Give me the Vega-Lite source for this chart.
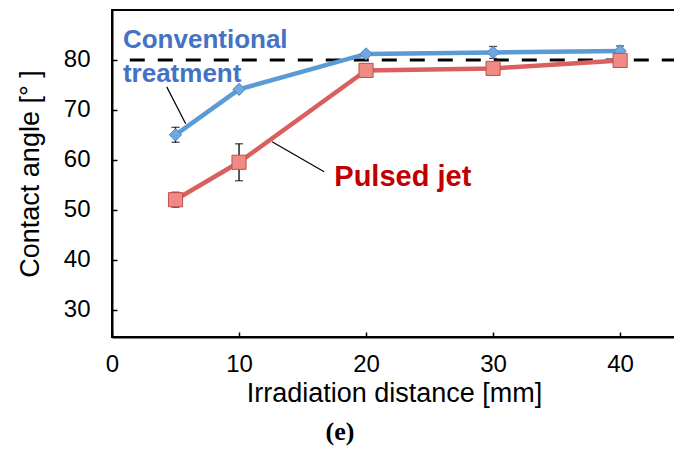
{
  "$schema": "https://vega.github.io/schema/vega-lite/v6.json",
  "width": 564,
  "height": 327,
  "autosize": {"type": "none"},
  "padding": {"left": 112, "top": 10, "right": 0, "bottom": 124},
  "config": {
    "font": "Liberation Sans",
    "view": {"stroke": "black", "strokeWidth": 2},
    "axis": {
      "grid": false,
      "domainColor": "black",
      "domainWidth": 2,
      "tickColor": "black",
      "tickWidth": 1.5,
      "tickSize": -5,
      "labelFlush": false,
      "labelFont": "Liberation Sans",
      "labelFontSize": 24,
      "labelColor": "black",
      "titleFont": "Liberation Sans",
      "titleFontSize": 27,
      "titleFontWeight": "normal",
      "titleColor": "black"
    }
  },
  "title": {
    "text": "(e)",
    "orient": "bottom",
    "font": "Liberation Serif",
    "fontSize": 26,
    "fontWeight": "bold",
    "color": "black",
    "offset": 13,
    "dx": -54
  },
  "datasets": {
    "series": [
      {"series": "Conventional treatment", "distance": 5, "angle": 65.0},
      {"series": "Conventional treatment", "distance": 10, "angle": 74.1},
      {"series": "Conventional treatment", "distance": 20, "angle": 81.2},
      {"series": "Conventional treatment", "distance": 30, "angle": 81.5},
      {"series": "Conventional treatment", "distance": 40, "angle": 81.8},
      {"series": "Pulsed jet", "distance": 5, "angle": 52.0},
      {"series": "Pulsed jet", "distance": 10, "angle": 59.5},
      {"series": "Pulsed jet", "distance": 20, "angle": 77.9},
      {"series": "Pulsed jet", "distance": 30, "angle": 78.3},
      {"series": "Pulsed jet", "distance": 40, "angle": 79.9}
    ],
    "errors": [
      {"series": "Conventional treatment", "distance": 5, "lo": 63.5, "hi": 66.5},
      {"series": "Conventional treatment", "distance": 30, "lo": 80.3, "hi": 82.7},
      {"series": "Conventional treatment", "distance": 40, "lo": 80.8, "hi": 82.8},
      {"series": "Pulsed jet", "distance": 5, "lo": 50.5, "hi": 53.5},
      {"series": "Pulsed jet", "distance": 10, "lo": 55.8, "hi": 63.2}
    ],
    "leaders": [
      {"x": 4.31, "y": 74.6, "x2": 5.8, "y2": 67.2},
      {"x": 12.6, "y": 63.6, "x2": 16.7, "y2": 57.6}
    ],
    "labels": [
      {"series": "Conventional treatment", "text": "Conventional", "x": 0.86, "y": 82.4},
      {"series": "Conventional treatment", "text": "treatment", "x": 0.86, "y": 75.6},
      {"series": "Pulsed jet", "text": "Pulsed jet", "x": 17.5, "y": 54.8}
    ]
  },
  "layer": [
    {
      "data": {"values": [{"x": 1.4, "x2": 44.4, "y": 80}]},
      "mark": {"type": "rule", "color": "black", "strokeWidth": 3, "strokeDash": [15, 13]},
      "encoding": {
        "x": {"field": "x", "type": "quantitative",
          "scale": {"domain": [0, 44.4], "nice": false},
          "axis": {"values": [0, 10, 20, 30, 40], "labelPadding": 20, "titlePadding": 4},
          "title": "Irradiation distance [mm]"},
        "x2": {"field": "x2"},
        "y": {"field": "y", "type": "quantitative",
          "scale": {"domain": [24.5, 90], "nice": false, "zero": false},
          "axis": {"values": [30, 40, 50, 60, 70, 80], "labelPadding": 27, "titlePadding": 19},
          "title": "Contact angle [° ]"}
      }
    },
    {
      "data": {"name": "leaders"},
      "mark": {"type": "rule", "color": "black", "strokeWidth": 1.2},
      "encoding": {
        "x": {"field": "x", "type": "quantitative"},
        "x2": {"field": "x2"},
        "y": {"field": "y", "type": "quantitative"},
        "y2": {"field": "y2"}
      }
    },
    {
      "data": {"name": "series"},
      "mark": {"type": "line", "strokeWidth": 4.5},
      "encoding": {
        "x": {"field": "distance", "type": "quantitative"},
        "y": {"field": "angle", "type": "quantitative"},
        "color": {"field": "series", "type": "nominal", "legend": null,
          "scale": {"domain": ["Conventional treatment", "Pulsed jet"], "range": ["#5b9bd5", "#d9605e"]}}
      }
    },
    {
      "data": {"name": "errors"},
      "mark": {"type": "rule", "color": "black", "strokeWidth": 1.3},
      "encoding": {
        "x": {"field": "distance", "type": "quantitative"},
        "y": {"field": "lo", "type": "quantitative"},
        "y2": {"field": "hi"}
      }
    },
    {
      "data": {"name": "errors"},
      "mark": {"type": "tick", "orient": "horizontal", "color": "black", "size": 8, "thickness": 1.3},
      "encoding": {
        "x": {"field": "distance", "type": "quantitative"},
        "y": {"field": "lo", "type": "quantitative"}
      }
    },
    {
      "data": {"name": "errors"},
      "mark": {"type": "tick", "orient": "horizontal", "color": "black", "size": 8, "thickness": 1.3},
      "encoding": {
        "x": {"field": "distance", "type": "quantitative"},
        "y": {"field": "hi", "type": "quantitative"}
      }
    },
    {
      "data": {"name": "series"},
      "transform": [{"filter": "datum.series == 'Conventional treatment'"}],
      "mark": {"type": "point", "shape": "diamond", "filled": true, "size": 150,
        "fill": "#6fa8e0", "stroke": "#4a86c8", "strokeWidth": 1, "opacity": 1},
      "encoding": {
        "x": {"field": "distance", "type": "quantitative"},
        "y": {"field": "angle", "type": "quantitative"}
      }
    },
    {
      "data": {"name": "series"},
      "transform": [{"filter": "datum.series == 'Pulsed jet'"}],
      "mark": {"type": "point", "shape": "square", "filled": true, "size": 200,
        "fill": "#f08a85", "stroke": "#c0504d", "strokeWidth": 1, "opacity": 1},
      "encoding": {
        "x": {"field": "distance", "type": "quantitative"},
        "y": {"field": "angle", "type": "quantitative"}
      }
    },
    {
      "data": {"name": "labels"},
      "transform": [{"filter": "datum.series == 'Conventional treatment'"}],
      "mark": {"type": "text", "align": "left", "baseline": "alphabetic",
        "fontSize": 26, "fontWeight": "bold", "color": "#4472c4"},
      "encoding": {
        "x": {"field": "x", "type": "quantitative"},
        "y": {"field": "y", "type": "quantitative"},
        "text": {"field": "text"}
      }
    },
    {
      "data": {"name": "labels"},
      "transform": [{"filter": "datum.series == 'Pulsed jet'"}],
      "mark": {"type": "text", "align": "left", "baseline": "alphabetic",
        "fontSize": 29, "fontWeight": "bold", "color": "#c00000"},
      "encoding": {
        "x": {"field": "x", "type": "quantitative"},
        "y": {"field": "y", "type": "quantitative"},
        "text": {"field": "text"}
      }
    }
  ]
}
